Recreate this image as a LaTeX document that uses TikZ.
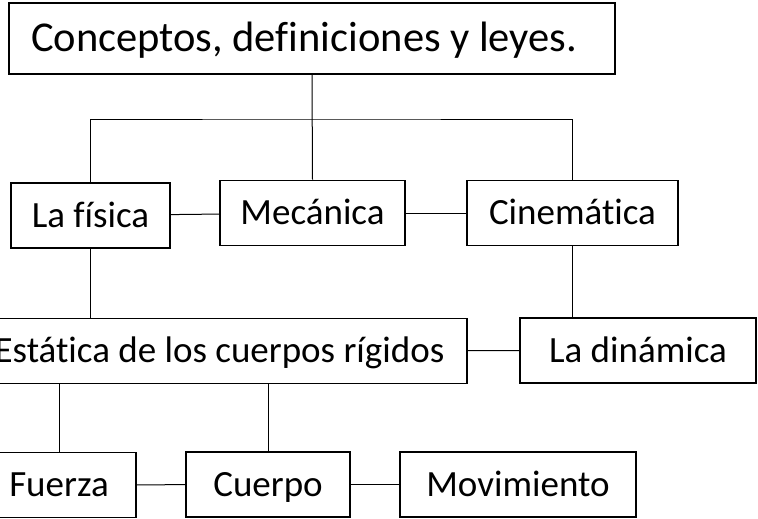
\documentclass[tikz,border=0pt]{standalone}
\usepackage{fontspec}
\setmainfont[Ligatures=NoCommon]{Carlito}
\begin{document}
\begin{tikzpicture}[x=1pt,y=-1pt,
	caja/.style={draw, line width=1.8pt, inner sep=0pt, minimum height=65pt, font=\fontsize{37}{44}\selectfont, text height=30.7pt, text depth=7.4pt},
	linea/.style={line width=1pt}]
	\useasboundingbox (0,0) rectangle (758,519);
	\clip (0,0) rectangle (758,519);

	% Titulo
	\node[caja, minimum height=71pt, text width=562pt, inner xsep=22pt, align=flush left, font=\fontsize{42.5}{50}\selectfont, text height=35.3pt, text depth=8.5pt] (titulo) at (312,38.5) {Conceptos, definiciones y leyes.};

	% Segundo nivel
	\node[caja, minimum width=159pt] (fisica) at (90.5,215.5) {La física};
	\node[caja, minimum width=185pt] (mecanica) at (312.5,213) {Mecánica};
	\node[caja, minimum width=211pt] (cinematica) at (572.5,213) {Cinemática};

	% Tercer nivel
	\node[caja, minimum width=495pt] (estatica) at (219.5,351) {Estática de los cuerpos rígidos};
	\node[caja, minimum width=236pt] (dinamica) at (638,350.5) {La dinámica};

	% Cuarto nivel
	\node[caja, minimum width=154pt] (fuerza) at (59,485) {Fuerza};
	\node[caja, minimum width=164pt] (cuerpo) at (268,484.5) {Cuerpo};
	\node[caja, minimum width=236pt] (movimiento) at (518,484.5) {Movimiento};

	% Conexiones
	\coordinate (rama) at (312,119);
	\draw[linea] (titulo.south) -- (mecanica.north);
	\draw[linea] (fisica.north) |- (rama) -| (cinematica.north);
	\draw[linea] (fisica) -- (mecanica);
	\draw[linea] (mecanica) -- (cinematica);
	\draw[linea] (fisica.south) -- (fisica.south |- estatica.north);
	\draw[linea] (cinematica.south) -- (cinematica.south |- dinamica.north);
	\draw[linea] (estatica) -- (dinamica);
	\draw[linea] (fuerza.north) -- (fuerza.north |- estatica.south);
	\draw[linea] (cuerpo.north) -- (cuerpo.north |- estatica.south);
	\draw[linea] (fuerza) -- (cuerpo);
	\draw[linea] (cuerpo) -- (movimiento);
\end{tikzpicture}
\end{document}
